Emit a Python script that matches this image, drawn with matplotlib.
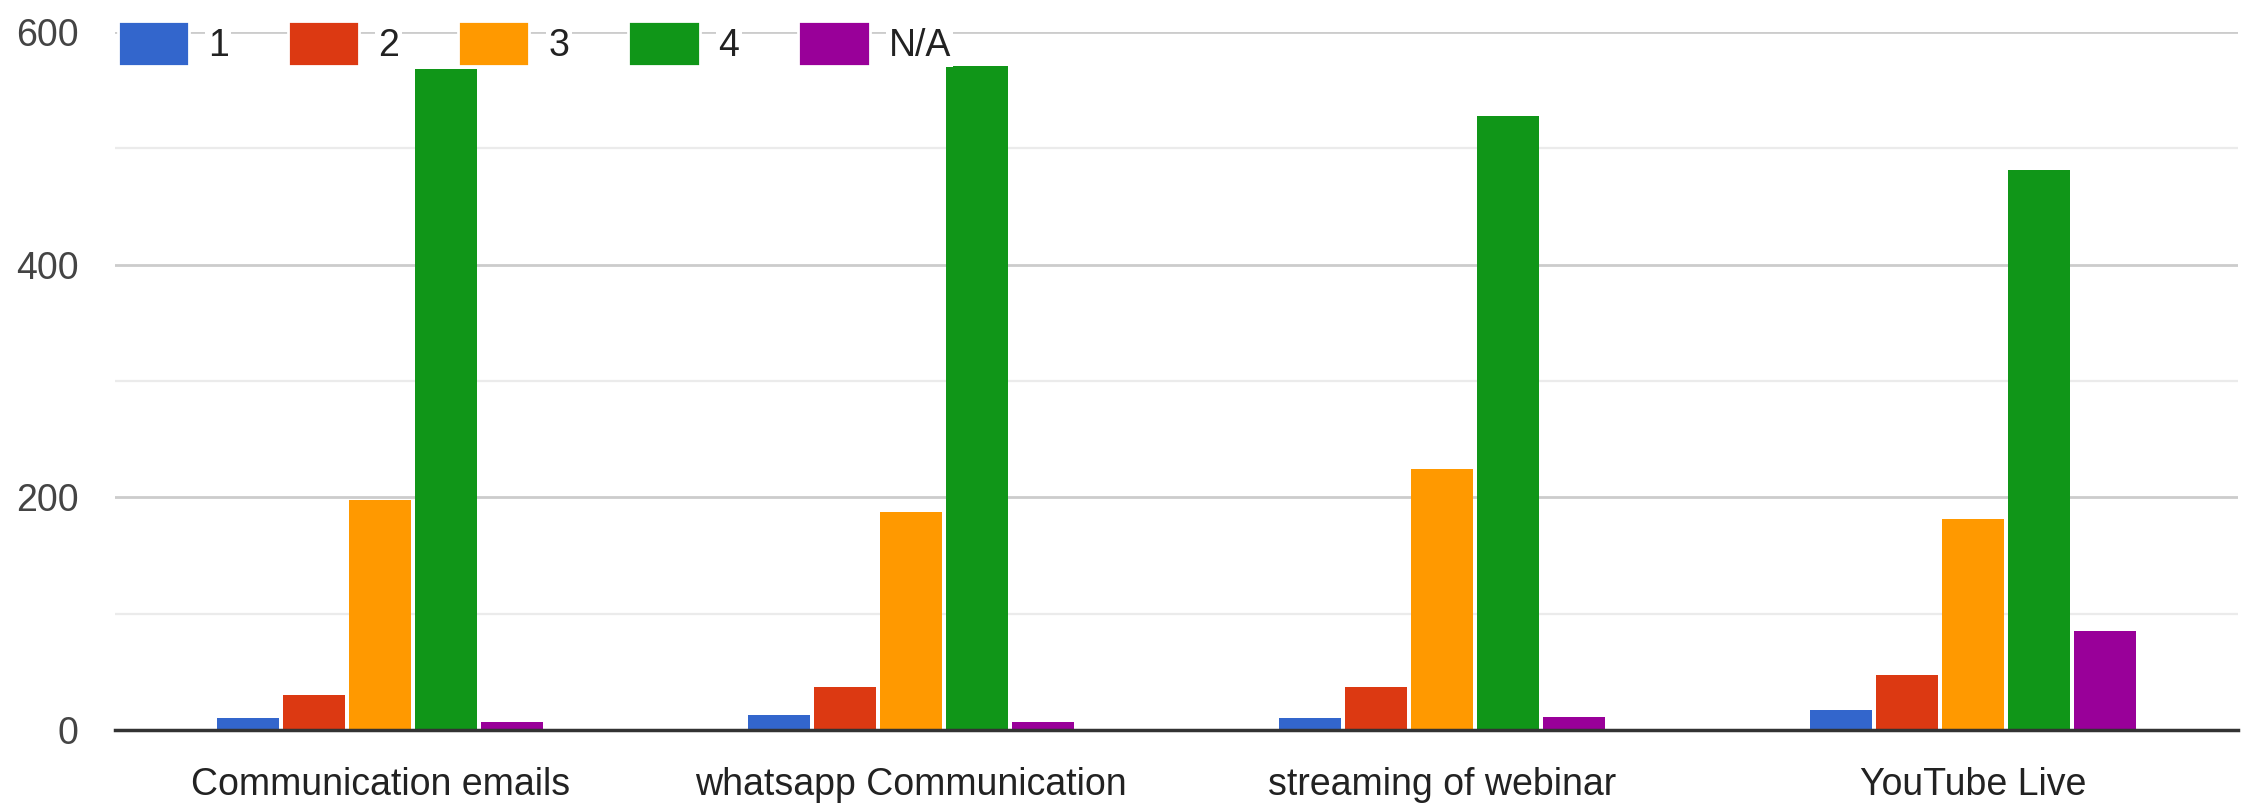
import numpy as np
import matplotlib
matplotlib.use("Agg")
import matplotlib.pyplot as plt

plt.rcParams['font.family'] = ['Liberation Sans Narrow', 'Liberation Sans', 'DejaVu Sans']

# data
categories = ['Communication emails', 'whatsapp Communication', 'streaming of webinar', 'YouTube Live']
series_names = ['1', '2', '3', '4', 'N/A']
s1 = [10, 13, 10, 17]
s2 = [30, 37, 37, 47]
s3 = [198, 187, 224, 181]
s4 = [568, 571, 528, 481]
s_na = [7, 7, 11, 85]
colors = ['#3366CC', '#DC3912', '#FF9900', '#109618', '#990099']

fig = plt.figure(figsize=(22.5, 8.11), dpi=100)
ax = fig.add_axes([0.0511, 0.1, 0.9436, 0.8605])

x = np.arange(len(categories))
pitch = 0.1244
width = 0.1168
all_series = [s1, s2, s3, s4, s_na]
for i, (vals, name, c) in enumerate(zip(all_series, series_names, colors)):
    offset = (i - 2) * pitch
    ax.bar(x + offset, vals, width, color=c, label=name, zorder=2)

ax.set_xlim(-0.5, len(categories) - 0.5)
ax.set_ylim(0, 600)
ax.set_yticks([0, 200, 400, 600])
ax.set_yticks([100, 300, 500], minor=True)
ax.set_xticks(x)
ax.set_xticklabels(categories)

ax.set_axisbelow(True)
ax.grid(axis='y', which='major', color='#CCCCCC', linewidth=2.0)
ax.grid(axis='y', which='minor', color='#EBEBEB', linewidth=1.6)
ax.tick_params(axis='y', which='both', length=0, pad=26, labelsize=27, labelcolor='#444444')
ax.tick_params(axis='x', length=0, pad=27, labelsize=27, labelcolor='#222222')

for side in ['top', 'right', 'left']:
    ax.spines[side].set_visible(False)
ax.spines['bottom'].set_color('#333333')
ax.spines['bottom'].set_linewidth(2.5)
ax.spines['bottom'].set_zorder(3)

leg = ax.legend(loc='center left', bbox_to_anchor=(0.0014, 0.9835), ncol=5, frameon=False,
                fontsize=27, handlelength=1.9, handleheight=1.45, handletextpad=0.5,
                columnspacing=1.58, borderpad=0, borderaxespad=0)
for h in leg.legend_handles:
    h.set_edgecolor('white')
    h.set_linewidth(2)
for t in leg.get_texts():
    t.set_color('#222222')
    t.set_bbox(dict(facecolor='white', edgecolor='none', pad=2))

fig.savefig('out.png', dpi=100, facecolor='white')
